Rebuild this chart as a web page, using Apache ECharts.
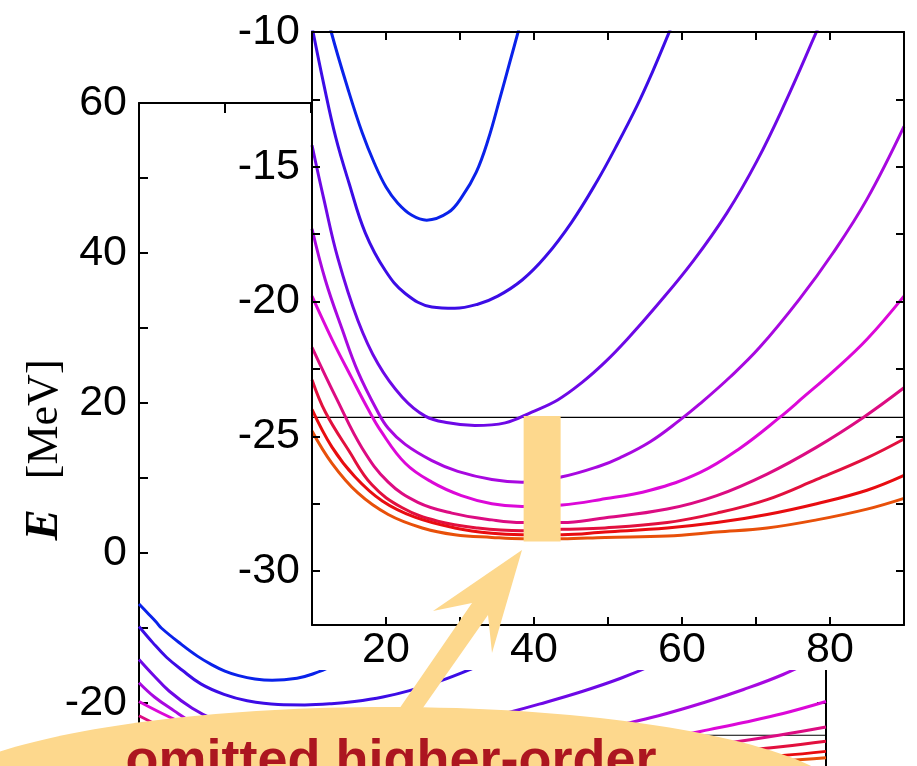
<!DOCTYPE html>
<html>
<head>
<meta charset="utf-8">
<script src="https://cdn.jsdelivr.net/npm/echarts@6/dist/echarts.min.js"></script>
<style>
  html, body { margin: 0; padding: 0; background: #fff; }
  #chart { width: 917px; height: 766px; }
</style>
</head>
<body>
<div id="chart"></div>
<script>
// energy curves E(x), blue (top) to orange (bottom)
const e1 = [[10,-6.8],[11,-8.0],[12,-9.2],[12.6,-10],[14.9,-12.15],[16.8,-13.75],[18.4,-14.85],[20.0,-15.75],[21.6,-16.35],[23.5,-16.8],[25.5,-16.98],[28.4,-16.7],[30.3,-16.1],[32.2,-15.2],[33.8,-14.0],[35.4,-12.45],[36.7,-11.15],[38.0,-9.85],[39,-8.8]];
const e2 = [[10,-9.8],[11.6,-11.95],[13.2,-13.9],[15.0,-15.6],[17.2,-17.45],[19.9,-18.85],[22.6,-19.7],[26.2,-20.2],[29.3,-20.25],[32.4,-20.1],[35.1,-19.8],[38.4,-19.2],[41.5,-18.35],[45.1,-17.05],[48.6,-15.5],[51.0,-14.3],[53.9,-12.75],[55.9,-11.55],[58.2,-10.05],[59,-9.5]];
const e3 = [[10,-14.2],[11.6,-16.2],[13.5,-18.4],[16.2,-20.7],[18.9,-22.3],[22.2,-23.55],[25.3,-24.25],[28.4,-24.5],[32.0,-24.6],[36.1,-24.5],[39.7,-24.1],[43.2,-23.65],[46.5,-23.0],[49.6,-22.25],[52.6,-21.4],[56.6,-20.15],[61.5,-18.5],[66.1,-16.7],[70.1,-14.8],[73.9,-12.65],[78.0,-10.1],[79,-9.45]];
const e4 = [[10,-17.3],[11.8,-19.2],[14.1,-21.05],[16.2,-22.6],[18.9,-24.1],[20.3,-24.7],[22.6,-25.3],[26.2,-25.9],[29.7,-26.3],[34.3,-26.6],[38.4,-26.7],[43.8,-26.5],[48.9,-26.1],[51.6,-25.8],[55.7,-25.2],[59.7,-24.4],[62.4,-23.8],[66.5,-22.8],[70.5,-21.7],[75.9,-19.9],[80.4,-18.2],[85.0,-16.2],[90,-13.5]];
const e5 = [[10,-19.8],[12.7,-21.4],[15.4,-22.85],[17.5,-23.95],[19.3,-24.8],[22.6,-26.0],[26.2,-26.7],[30.2,-27.2],[34.3,-27.5],[38.4,-27.6],[43.8,-27.55],[48.9,-27.35],[55.7,-27.0],[62.4,-26.35],[67.8,-25.45],[73.2,-24.3],[76.4,-23.55],[80.4,-22.6],[85.0,-21.4],[90,-19.8]];
const e6 = [[10,-21.7],[13.4,-23.65],[16.8,-25.45],[20.3,-26.7],[24.3,-27.45],[28.9,-27.85],[34.3,-28.1],[38.4,-28.2],[43.8,-28.2],[48.9,-28.05],[58.0,-27.7],[64.7,-27.2],[71.5,-26.4],[78.2,-25.4],[84.5,-24.3],[90,-23.2]];
const e7 = [[10,-22.9],[11.8,-24.1],[14.9,-25.5],[18.1,-26.8],[22.2,-27.65],[27.0,-28.15],[32.4,-28.4],[38.4,-28.5],[43.8,-28.45],[49.6,-28.4],[58.0,-28.2],[64.7,-27.85],[71.5,-27.35],[78.2,-26.6],[85.0,-25.8],[90,-25.1]];
const e8 = [[10,-24.0],[12.7,-25.4],[15.8,-26.5],[19.5,-27.4],[23.9,-28.0],[29.3,-28.4],[34.3,-28.6],[38.4,-28.65],[43.8,-28.65],[49.6,-28.55],[58.0,-28.4],[64.7,-28.2],[71.5,-27.9],[78.2,-27.5],[85.0,-27.0],[90,-26.45]];
const e9 = [[10,-24.8],[12.7,-26.0],[16.2,-27.1],[20.3,-27.9],[24.9,-28.4],[29.3,-28.65],[34.3,-28.75],[38.4,-28.8],[43.8,-28.8],[49.6,-28.75],[58.0,-28.7],[64.7,-28.55],[71.5,-28.4],[78.2,-28.1],[85.0,-27.7],[90,-27.3]];

const curves = [e1, e2, e3, e4, e5, e6, e7, e8, e9];
const curveColors = ['#0a22ea', '#3c0ce6', '#6e08e6', '#a808e0', '#dc08d8', '#dc0c82', '#e2103e', '#e80c10', '#e8500a'];

// thin reference line and the shaded band
const refLevel = -24.3;
const bandX = [38.6, 43.6];
const bandY = [-28.9, -24.25];

// ticks and labels
const mainXTicks = [20, 30, 40, 50, 60, 70, 80];
const mainYTicks = [-20, -10, 0, 10, 20, 30, 40, 50];
const mainYLabels = [-20, 0, 20, 40, 60];
const insetXTicks = [20, 30, 40, 50, 60, 70, 80];
const insetXLabels = [20, 40, 60, 80];
const insetYTicks = [-30, -27.5, -25, -22.5, -20, -17.5, -15, -12.5];
const insetYLabels = [-30, -25, -20, -15, -10];

const beige = '#fdd88d';
const labelFont = { fontFamily: '"Liberation Sans", Arial, sans-serif', fontSize: 43, color: '#000' };
const serif = '"Liberation Serif", "DejaVu Serif", serif';

function axisBase(extra) {
    return Object.assign({
        axisLine: { show: true, onZero: false, lineStyle: { color: '#000', width: 2 } },
        splitLine: { show: false },
        axisTick: { show: true, inside: true, length: 8, lineStyle: { color: '#000', width: 2 } },
        axisLabel: { show: false }
    }, extra);
}

let chart = echarts.init(document.getElementById('chart'));

let series = [];
// main panel (mostly hidden behind the inset)
curves.forEach((c, i) => {
    series.push({
        type: 'line', xAxisIndex: 0, yAxisIndex: 0, data: c, smooth: 0.4,
        symbol: 'none', lineStyle: { color: curveColors[i], width: 3 }, z: 2
    });
});
series.push({
    type: 'line', xAxisIndex: 0, yAxisIndex: 0, data: [[10, refLevel], [90, refLevel]],
    symbol: 'none', lineStyle: { color: '#000', width: 1 }, z: 1
});
// inset
series.push({
    type: 'line', xAxisIndex: 2, yAxisIndex: 2, data: [[10, refLevel], [90, refLevel]],
    symbol: 'none', lineStyle: { color: '#000', width: 1.2 }, z: 14
});
curves.forEach((c, i) => {
    series.push({
        type: 'line', xAxisIndex: 2, yAxisIndex: 2, data: c, smooth: 0.4, clip: true,
        symbol: 'none', lineStyle: { color: curveColors[i], width: 3 }, z: 15
    });
});
series.push({
    type: 'custom', xAxisIndex: 2, yAxisIndex: 2, z: 16,
    data: [[bandX[0], bandY[0], bandX[1], bandY[1]]],
    renderItem: function (params, api) {
        let p0 = api.coord([api.value(0), api.value(1)]);
        let p1 = api.coord([api.value(2), api.value(3)]);
        return {
            type: 'rect',
            shape: { x: p0[0], y: p1[1], width: p1[0] - p0[0], height: p0[1] - p1[1] },
            style: { fill: beige }
        };
    }
});

let option = {
    animation: false,
    backgroundColor: '#fff',
    grid: [
        // main panel runs off the bottom of the picture: 60 at top, 7.5 px per MeV
        { left: 139, top: 103, width: 687, height: 663 },
        { left: 312, top: 32, width: 592, height: 593 }
    ],
    xAxis: [
        axisBase({ gridIndex: 0, type: 'value', min: 10, max: 90, position: 'bottom',
            axisLine: { show: false }, axisTick: { show: false } }),
        axisBase({ gridIndex: 0, type: 'value', min: 10, max: 90, position: 'top',
            axisTick: { show: true, inside: true, length: 10, customValues: mainXTicks, lineStyle: { color: '#000', width: 2 } } }),
        axisBase({ gridIndex: 1, type: 'value', min: 10, max: 90, position: 'bottom', z: 20,
            axisTick: { show: true, inside: true, length: 8, customValues: insetXTicks, lineStyle: { color: '#000', width: 2 } },
            axisLabel: Object.assign({ show: true, margin: 4, customValues: insetXLabels }, labelFont) }),
        axisBase({ gridIndex: 1, type: 'value', min: 10, max: 90, position: 'top', z: 20,
            axisTick: { show: true, inside: true, length: 8, customValues: insetXTicks, lineStyle: { color: '#000', width: 2 } } })
    ],
    yAxis: [
        axisBase({ gridIndex: 0, type: 'value', min: -28.4, max: 60, position: 'left',
            axisTick: { show: true, inside: true, length: 9, customValues: mainYTicks, lineStyle: { color: '#000', width: 2 } },
            axisLabel: Object.assign({ show: true, margin: 12, customValues: mainYLabels }, labelFont) }),
        axisBase({ gridIndex: 0, type: 'value', min: -28.4, max: 60, position: 'right',
            axisTick: { show: true, inside: true, length: 9, customValues: mainYTicks, lineStyle: { color: '#000', width: 2 } } }),
        axisBase({ gridIndex: 1, type: 'value', min: -32, max: -10, position: 'left', z: 20,
            axisTick: { show: true, inside: true, length: 8, customValues: insetYTicks, lineStyle: { color: '#000', width: 2 } },
            axisLabel: Object.assign({ show: true, margin: 12, customValues: insetYLabels }, labelFont) }),
        axisBase({ gridIndex: 1, type: 'value', min: -32, max: -10, position: 'right', z: 20,
            axisTick: { show: true, inside: true, length: 8, customValues: insetYTicks, lineStyle: { color: '#000', width: 2 } } })
    ],
    series: series,
    graphic: [
        // white box behind the inset and its labels
        { type: 'rect', z: 10, shape: { x: 311, y: 0, width: 606, height: 670 }, style: { fill: '#fff' } },
        // y axis title
        {
            type: 'text', z: 5, x: 45, y: 450, rotation: Math.PI / 2,
            style: {
                text: '{e|E}{s|}{u|[MeV]}', align: 'center', verticalAlign: 'middle', fill: '#000',
                rich: {
                    e: { fontFamily: serif, fontStyle: 'italic', fontWeight: 'bold', fontSize: 47 },
                    s: { width: 30 },
                    u: { fontFamily: serif, fontSize: 44 }
                }
            }
        },
        // callout
        { type: 'ellipse', z: 30, shape: { cx: 387, cy: 807, rx: 465, ry: 100 }, style: { fill: beige } },
        {
            type: 'polygon', z: 30,
            shape: { points: [[397, 712], [472, 603], [433, 611], [522, 550], [492, 653], [488, 615], [420, 712]] },
            style: { fill: beige }
        },
        {
            type: 'text', z: 31, x: 391, y: 762,
            style: { text: 'omitted higher-order', font: 'bold 54px "Liberation Sans", Arial, sans-serif', fill: '#ac1620', align: 'center', verticalAlign: 'middle' }
        }
    ]
};

chart.setOption(option);
</script>
</body>
</html>
